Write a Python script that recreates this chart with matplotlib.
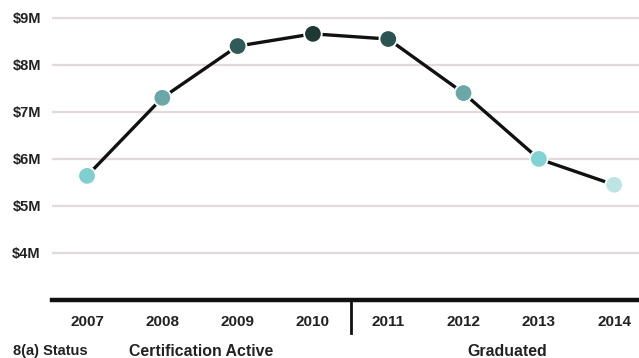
import numpy as np
import matplotlib.pyplot as plt

years = [2007, 2008, 2009, 2010, 2011, 2012, 2013, 2014]
revenue = [5.64, 7.30, 8.40, 8.66, 8.55, 7.40, 6.00, 5.45]  # $ millions
dot_colors = ["#7fcfd0", "#69a8a6", "#2f5a57", "#1e3833",
              "#2c5551", "#69a8a6", "#80d2d4", "#bde4e4"]
y_ticks = [4, 5, 6, 7, 8, 9]
status_groups = ["Certification Active", "Graduated"]

plt.rcParams["font.family"] = ["Liberation Sans", "DejaVu Sans"]
plt.rcParams["font.weight"] = "bold"

fig = plt.figure(figsize=(6.39, 3.58), dpi=100)
ax = fig.add_axes([52 / 639, 58 / 358, 587 / 639, 300 / 358])

for v in y_ticks:
    ax.axhline(v, color="#e2d9dd", lw=1.6, zorder=0)

ax.plot(years, revenue, color="#111111", lw=2.4, zorder=2)
ax.scatter(years, revenue, s=160, c=dot_colors, edgecolors="white",
           linewidths=1.3, zorder=3)

ax.set_xlim(2006.535, 2014.33)
ax.set_ylim(3, 9.38)
ax.set_yticks(y_ticks)
ax.set_yticklabels([f"${v}M" for v in y_ticks])
ax.set_xticks(years)
ax.set_xticklabels([str(y) for y in years])
ax.tick_params(axis="y", length=0, pad=8, labelsize=10.5, labelcolor="#222222")
ax.tick_params(axis="x", length=0, pad=11, labelsize=11, labelcolor="#222222")

for side in ["top", "right", "left"]:
    ax.spines[side].set_visible(False)
ax.spines["bottom"].set_linewidth(3.2)
ax.spines["bottom"].set_color("#111111")

# divider between the two status periods
ax.plot([2010.51, 2010.51], [3, 3 - 33 / 47], color="#111111", lw=2,
        clip_on=False, zorder=4)

fig.text(13 / 639, 1 - 351 / 358, "8(a) Status", fontsize=10.5, fontweight="bold",
         color="#222222", va="center", ha="left")
fig.text(201 / 639, 1 - 351 / 358, status_groups[0], fontsize=11.4, fontweight="bold",
         color="#222222", va="center", ha="center")
fig.text(507 / 639, 1 - 351 / 358, status_groups[1], fontsize=11.4, fontweight="bold",
         color="#222222", va="center", ha="center")

fig.savefig("out.png", dpi=100)
